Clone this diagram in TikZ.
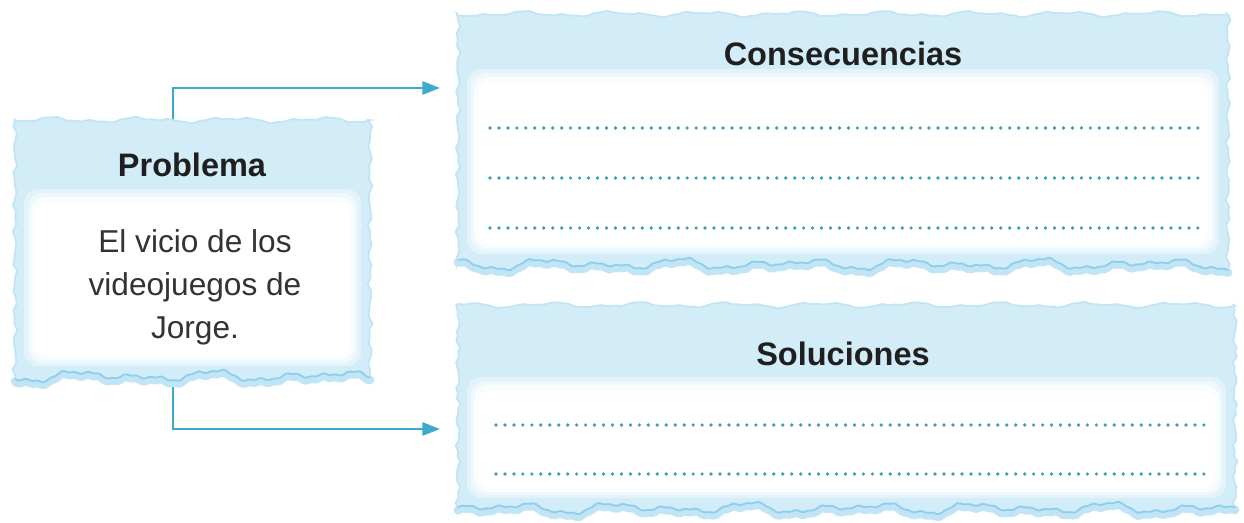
\documentclass[tikz,border=0pt]{standalone}
\usepackage{fontspec}
\setmainfont{Liberation Sans}
\usetikzlibrary{arrows.meta}
\definecolor{hdr}{HTML}{D2ECF8}
\definecolor{glow}{HTML}{C2E5F6}
\definecolor{edgec}{HTML}{8CCEEC}
\definecolor{arrowc}{HTML}{3BAACB}
\definecolor{dotc}{HTML}{3F9FB2}
\definecolor{hdtxt}{HTML}{1F1F1F}
\definecolor{bdtxt}{HTML}{333333}
\tikzset{
  declare function={
    bwave(\t)=3*sin(mod(\t,360)*3)+2.6*sin(mod(\t,360)*5+40)+1.6*sin(mod(\t,360)*11+70)+0.7*sin(mod(\t,360)*29+15);
    twave(\t)=1.8*sin(mod(\t,360)*4)+1.2*sin(mod(\t,360)*9+20)+0.5*sin(mod(\t,360)*23);
    swave(\t)=1.4*sin(mod(\t,360)*13)+1.1*sin(mod(\t,360)*31+20);
  },
  boxfill/.style={fill=hdr, draw=glow, line width=1pt},
  boxglow/.style={glow, line width=5pt, line cap=round},
  boxedge/.style={edgec, line width=1pt, line cap=round},
  heading/.style={font=\fontsize{18.5}{22}\selectfont\bfseries, text=hdtxt, inner sep=0pt},
  bodytext/.style={font=\fontsize{18}{24.5}\selectfont, text=bdtxt, align=center, inner sep=0pt},
  dotline/.style={dotc, line width=2.1pt, line cap=round, dash pattern=on 0pt off 5.1pt},
  arr/.style={arrowc, line width=1.1pt, -{Triangle[length=10pt,width=7.5pt]}},
}
\newcommand\tornbox[5]{%
  \draw[boxglow] plot[smooth, domain=#3:#1, samples=250] (\x,{#4+2.5+bwave(\x+#2)});
  \path[boxfill]
    plot[smooth, domain=#1:#3, samples=120] (\x,{#2+twave(\x+#4)})
    -- plot[domain=#2:#4, samples=40] ({#3+swave(\x+#1)},\x)
    -- plot[smooth, domain=#3:#1, samples=250] (\x,{#4+bwave(\x+#2)})
    -- plot[domain=#4:#2, samples=40] ({#1+swave(\x+#3)},\x) -- cycle;
  \draw[boxedge] plot[smooth, domain=#3:#1, samples=250] (\x,{#4+bwave(\x+#2)});
  \fill[white!35!hdr, rounded corners=8pt] (#1+9,#5-7) rectangle (#3-9,#4-10);
  \fill[white!65!hdr, rounded corners=8pt] (#1+13,#5-3) rectangle (#3-13,#4-13);
  \fill[white!88!hdr, rounded corners=8pt] (#1+16,#5+1) rectangle (#3-16,#4-16);
  \fill[white, rounded corners=8pt] (#1+20,#5+6) rectangle (#3-20,#4-20);
}
\begin{document}
\begin{tikzpicture}[x=0.02cm, y=-0.02cm]
\useasboundingbox (0,0) rectangle (1244,523);
\fill[white] (0,0) rectangle (1244,523);

% connector anchors
\coordinate (probtop) at (173,135);
\coordinate (probbot) at (173,368);
\coordinate (consin) at (440,88);
\coordinate (solin) at (440,429);
\draw[arr] (probtop) |- (consin);
\draw[arr] (probbot) |- (solin);

% boxes
\tornbox{15}{120}{370}{376}{196}
\tornbox{458}{14}{1228}{264}{76}
\tornbox{458}{305}{1235}{508}{384}

% texts
\node[heading] (probh) at (192,165) {Problema};
\node[bodytext] (probt) at (195,287) {El vicio de los\\videojuegos de\\Jorge.};
\node[heading] (consh) at (843,54) {Consecuencias};
\node[heading] (solh) at (843,354) {Soluciones};

% writing lines
\draw[dotline] (490,128) -- (1205,128);
\draw[dotline] (490,178) -- (1205,178);
\draw[dotline] (490,228) -- (1205,228);
\draw[dotline] (496,425) -- (1207,425);
\draw[dotline] (496,474) -- (1207,474);
\end{tikzpicture}
\end{document}
